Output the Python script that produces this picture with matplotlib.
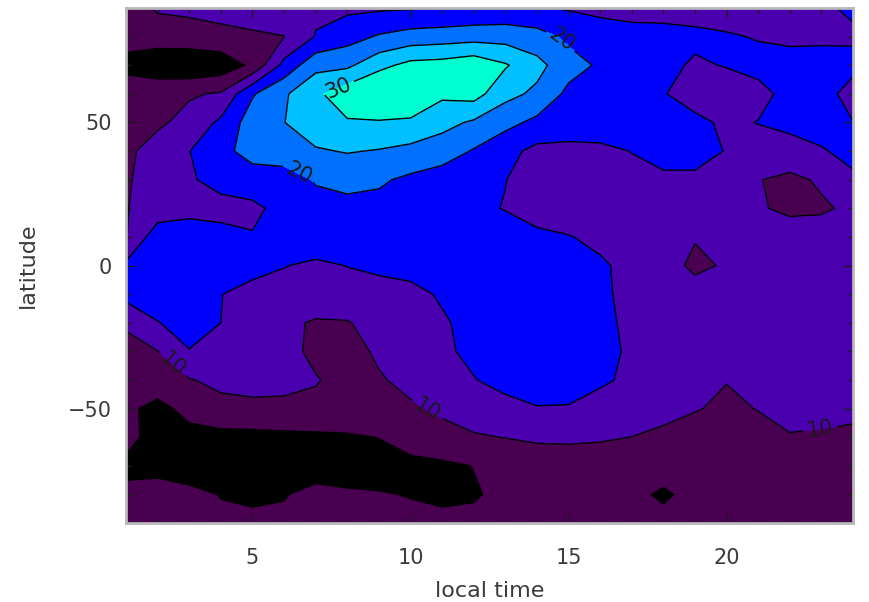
import numpy as np
import matplotlib
matplotlib.use('Agg')
import matplotlib.pyplot as plt

# grid: local time (h) x latitude (deg), rows listed from north to south
local_time = list(range(1, 25))
latitude = list(range(90, -91, -10))

lat_p90 = [8, 10.5, 11, 12, 13, 13.5, 14, 14, 14.3, 14.6, 14.9, 15.5, 16, 15.3, 14.6, 14, 13.5, 13.5, 13.5, 13.5, 13.5, 14, 14.5, 15.5]
lat_p80 = [7.5, 7.8, 8, 8.4, 9.1, 9.9, 15.3, 18, 20.5, 22, 22.5, 23, 23, 22, 19, 17, 16.5, 16.3, 15.8, 15.3, 14.8, 14.2, 14.3, 14.5]
lat_p70 = [3, 1, 1, 2, 6, 16.5, 23.5, 24, 28.5, 31.5, 32, 33.5, 30.5, 26.5, 22, 19.3, 17.5, 16, 14.5, 15.2, 16, 16.5, 16.5, 16]
lat_p60 = [9, 9.3, 9.5, 10.5, 19.5, 24.3, 29, 33, 36, 38, 31, 32, 26.5, 24, 18.8, 17.5, 16.5, 15.2, 13.5, 13, 14, 16, 16.5, 13.5]
lat_p50 = [7.5, 9.2, 11.5, 16, 22.5, 24.9, 28, 29.5, 29.5, 28.5, 26.5, 24.3, 21.5, 18.8, 18, 17.5, 17, 16.5, 15.8, 14.4, 15.1, 16, 16, 15.1]
lat_p40 = [9, 12, 14.9, 18.5, 22, 23.5, 24.5, 25.3, 24.7, 23.8, 22.5, 19.6, 16.5, 13.7, 13.5, 14, 15.1, 16, 15.8, 14.9, 13.5, 13.5, 14.8, 15.7]
lat_p30 = [9.5, 12, 14.5, 16.5, 17.5, 17, 20.5, 21.5, 20.7, 19, 17.5, 16.5, 15.1, 13, 12.5, 13, 13.8, 14.5, 14.6, 12, 10.2, 8.8, 10.7, 14.6]
lat_p20 = [9.8, 12, 13, 13.5, 14, 16.5, 18, 18.5, 18.5, 18, 17, 16, 14.8, 13, 12.5, 12.8, 13, 13, 12.5, 11.5, 10.5, 9, 9.3, 11]
lat_p10 = [9.7, 18, 18.5, 16.5, 15.3, 18, 18.5, 18.8, 18.8, 18.5, 18.3, 18, 17, 16, 15.2, 14, 13, 12.5, 10.3, 11.5, 12.5, 12.5, 12.5, 13]
lat_000 = [16, 17, 17.5, 17, 16.5, 15.2, 14, 15.1, 15.8, 16.5, 18.5, 19, 19, 18.5, 17, 15.6, 13.8, 12, 9, 10.5, 12.5, 13, 13.5, 14.5]
lat_m10 = [16.5, 16.5, 16, 15.1, 13.5, 13, 13, 13.2, 13.5, 13.8, 15.5, 16.5, 17.5, 18, 17, 15.8, 13.8, 12.5, 12, 12, 12.5, 13.5, 14, 14.6]
lat_m20 = [11, 14.9, 16, 15.0, 12.5, 11, 9.5, 9.7, 11.8, 13, 14.5, 16.3, 17.5, 18, 17.3, 15.8, 14.3, 13.5, 13, 13, 13.5, 14, 14.3, 14.3]
lat_m30 = [7.5, 9.9, 14.9, 14.8, 12.5, 11, 9.3, 8.8, 10.5, 12.5, 14.2, 16, 17, 17.5, 17, 15.8, 14.6, 13.5, 13, 13, 13.2, 13.5, 13.5, 13.5]
lat_m40 = [7, 8, 9.7, 11.2, 11.5, 11, 10.2, 9, 9.7, 10.8, 13, 14.8, 16.5, 16.8, 16.2, 15.4, 14.5, 13, 11.5, 10.1, 11, 12.5, 13, 13]
lat_m50 = [6, 3.5, 6.5, 8.5, 9, 9.2, 9.3, 9.2, 9.2, 9.6, 10.5, 12, 13.5, 14.8, 14.8, 14, 12.5, 11, 10.2, 9.4, 10.1, 11, 11.2, 10.8]
lat_m60 = [6.5, 3, 3.5, 3.5, 3.5, 3.8, 4, 4.3, 5.1, 7.5, 9, 9.6, 10.1, 10.8, 10.8, 10.5, 9.95, 9.3, 8.5, 8.5, 9, 9.8, 9.5, 9.3]
lat_m70 = [4, 3.5, 2, 2, 2, 2.5, 2.5, 3, 3, 3.5, 4, 5.1, 6.5, 7, 7.5, 7.5, 7, 6.5, 7, 7.5, 8, 8.5, 8.5, 8.5]
lat_m80 = [6, 7, 6.5, 4.8, 3, 4.7, 6.5, 5.6, 5.3, 4.8, 4.2, 4.6, 6, 6.5, 6.5, 6.3, 5.8, 4.5, 6, 6.5, 7, 7.5, 7.5, 7.5]
lat_m90 = [6.5, 6.5, 6.5, 6, 7.5, 6, 6.2, 6.3, 6.3, 6.2, 6, 6, 6.5, 6.8, 7, 7, 6.8, 6, 6.3, 6.5, 6.8, 7, 7, 7]

rows = [lat_p90, lat_p80, lat_p70, lat_p60, lat_p50, lat_p40, lat_p30,
        lat_p20, lat_p10, lat_000, lat_m10, lat_m20, lat_m30, lat_m40,
        lat_m50, lat_m60, lat_m70, lat_m80, lat_m90]

levels = [5, 10, 15, 20, 25, 30]
label_levels = [10, 20, 30]
plain_levels = [5, 15, 25]
band_colors = ['#000000', '#4a0050', '#4b00b0', '#0000ff',
               '#0070ff', '#00c0ff', '#00ffd0']

x = np.asarray(local_time)
y = np.asarray(latitude)[::-1]
z = np.flipud(np.asarray(rows, dtype=float))

plt.rcParams['font.family'] = ['DejaVu Sans']
text_color = '#3a3a3a'
fig = plt.figure(figsize=(8.69, 6.02), dpi=100)
ax = fig.add_axes([0.145, 0.131, 0.8366, 0.8557])

ax.contourf(x, y, z, levels=[0] + levels + [100], colors=band_colors)
ax.contour(x, y, z, levels=plain_levels, colors='black', linewidths=1.0)
cs = ax.contour(x, y, z, levels=label_levels, colors='black', linewidths=1.0)

# label spots roughly where the reference puts them
spots = [(7.6, 65), (6.5, 33), (14.9, 80.5), (2.45, -35), (10.55, -50),
         (22.96, -57.5)]
ax.clabel(cs, manual=spots, fmt='%d', fontsize=15,
          colors='#1a1a1a', inline=True, inline_spacing=4)

ax.set_xlim(1, 24)
ax.set_ylim(-90, 90)
ax.set_xticks([5, 10, 15, 20])
ax.set_xticks(range(1, 25), minor=True)
ax.set_yticks([-50, 0, 50])
ax.set_yticks(range(-90, 91, 10), minor=True)
ax.set_yticklabels(['\u221250', '0', '50'])

ax.tick_params(which='both', direction='in', top=True, right=True,
               colors='#1a1a1a', labelsize=15, labelcolor=text_color)
ax.tick_params(which='major', length=6.5, width=1)
ax.tick_params(which='minor', length=3.5, width=1)
ax.tick_params(axis='x', pad=18)
ax.tick_params(axis='y', pad=10)

for sp in ax.spines.values():
    sp.set_color('#b8b8b8')
    sp.set_linewidth(2)

ax.set_xlabel('local time', fontsize=16, color=text_color, labelpad=9)
ax.set_ylabel('latitude', fontsize=16, color=text_color, labelpad=22)

fig.savefig('out.png', dpi=100)
